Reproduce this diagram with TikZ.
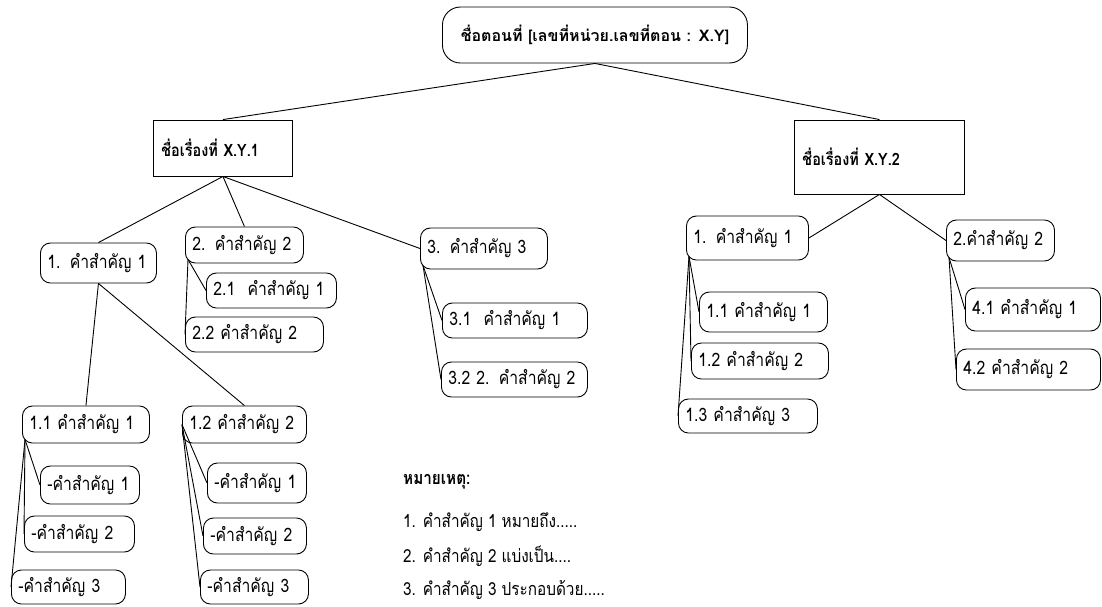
\documentclass[tikz,border=0pt]{standalone}
\usepackage{fontspec}
\setmainfont{Loma}[Script=Thai, FakeStretch=0.85]
\newfontfamily\unitfont{Loma}[Script=Thai]

\tikzset{
          kw/.style={draw, rounded corners=10pt, line width=0.9pt, inner xsep=7pt, inner ysep=0pt, anchor=west, align=left, font=\fontsize{18.5}{20}\selectfont},
          ttl/.style={draw, line width=0.9pt, inner xsep=8pt, inner ysep=0pt, anchor=west, align=left, font=\bfseries\fontsize{17}{19}\selectfont},
          lnk/.style={line width=0.9pt}
        }

\begin{document}
\begin{tikzpicture}[x=1pt, y=-1pt]
  \useasboundingbox (0,0) rectangle (1102,606);

  % unit
  \node[kw, rounded corners=18pt, align=center, text width=291pt, minimum height=56pt, font=\unitfont\bfseries\fontsize{16}{18}\selectfont] (top) at (442,35) {ชื่อตอนที่ [เลขที่หน่วย.เลขที่ตอน : X.Y]};

  % topics
  \node[ttl, text width=123pt, minimum height=56pt] (t1) at (153,148) {ชื่อเรื่องที่ X.Y.1};
  \node[ttl, text width=154pt, minimum height=74pt] (t2) at (794,157) {ชื่อเรื่องที่ X.Y.2};

  % X.Y.1
  \node[kw, text width=102pt, minimum height=40pt] (a1) at (40,263) {1. คำสำคัญ 1};
  \node[kw, text width=113pt, minimum height=37pt] (a11) at (22,424.5) {1.1 คำสำคัญ 1};
  \node[kw, text width=85pt, minimum height=38pt] (a111) at (40,485) {-คำสำคัญ 1};
  \node[kw, text width=96pt, minimum height=36pt] (a112) at (24,534) {-คำสำคัญ 2};
  \node[kw, text width=100pt, minimum height=34pt] (a113) at (11,587) {-คำสำคัญ 3};
  \node[kw, text width=110pt, minimum height=37pt] (a12) at (182,424.5) {1.2 คำสำคัญ 2};
  \node[kw, text width=85pt, minimum height=40pt] (a121) at (207,483) {-คำสำคัญ 1};
  \node[kw, text width=89pt, minimum height=36pt] (a122) at (203,536) {-คำสำคัญ 2};
  \node[kw, text width=94pt, minimum height=34pt] (a123) at (200,587) {-คำสำคัญ 3};
  \node[kw, text width=104pt, minimum height=36pt] (a2) at (185,245) {2. คำสำคัญ 2};
  \node[kw, text width=116pt, minimum height=35pt] (a21) at (206,290.5) {2.1\ \ คำสำคัญ 1};
  \node[kw, text width=124pt, minimum height=35pt] (a22) at (185,334.5) {2.2 คำสำคัญ 2};
  \node[kw, text width=113pt, minimum height=41pt] (a3) at (420,248.5) {3. คำสำคัญ 3};
  \node[kw, text width=131pt, minimum height=35pt] (a31) at (442,320.5) {3.1\ \ คำสำคัญ 1};
  \node[kw, text width=132pt, minimum height=35pt] (a32) at (441,379.5) {3.2 2. คำสำคัญ 2};

  % X.Y.2
  \node[kw, text width=108pt, minimum height=44pt] (b1) at (686,238) {1. คำสำคัญ 1};
  \node[kw, text width=114pt, minimum height=40pt] (b11) at (699,312) {1.1 คำสำคัญ 1};
  \node[kw, text width=123pt, minimum height=36pt] (b12) at (691,361) {1.2 คำสำคัญ 2};
  \node[kw, text width=125pt, minimum height=34pt] (b13) at (678,416) {1.3 คำสำคัญ 3};
  \node[kw, text width=94pt, minimum height=41pt] (b2) at (946,240.5) {2.คำสำคัญ 2};
  \node[kw, text width=121pt, minimum height=43pt] (b21) at (965,309.5) {4.1 คำสำคัญ 1};
  \node[kw, text width=130pt, minimum height=41pt] (b22) at (956,369.5) {4.2 คำสำคัญ 2};

  % corners the branches leave from
  \foreach \p in {a11,a2,a3,b1,b2}
    \coordinate (\p c) at ([shift={(3,-4)}]\p.south west);

  \draw[lnk] (top.south) -- (t1.north);
  \draw[lnk] (top.south) -- (t2.north);
  \foreach \c/\a in {a1/north,a2/north,a3/west}
    \draw[lnk] (t1.south) -- (\c.\a);
  \foreach \c in {a11,a12}
    \draw[lnk] (a1.south) -- (\c.north);
  \foreach \c in {a111,a112,a113}
    \draw[lnk] (a11c) -- (\c.west);
  \foreach \c in {a121,a122,a123}
    \draw[lnk] (a12.west) -- (\c.west);
  \foreach \c in {a21,a22}
    \draw[lnk] (a2c) -- (\c.west);
  \foreach \c in {a31,a32}
    \draw[lnk] (a3c) -- (\c.west);
  \draw[lnk] (t2.south) -- (b1.east);
  \draw[lnk] (t2.south) -- (b2.west);
  \foreach \c in {b11,b12,b13}
    \draw[lnk] (b1c) -- (\c.west);
  \foreach \c in {b21,b22}
    \draw[lnk] (b2c) -- (\c.west);

  % notes
  \node[anchor=west, inner sep=0pt, font=\bfseries\fontsize{18}{22}\selectfont] (nb) at (403,482) {หมายเหตุ:};
  \foreach \i/\t in {1/{1. คำสำคัญ 1 หมายถึง.....},2/{2. คำสำคัญ 2 แบ่งเป็น....},3/{3. คำสำคัญ 3 ประกอบด้วย.....}}
    \node[anchor=west, inner sep=0pt, font=\fontsize{18}{22}\selectfont] (nb\i) at (403,488+34*\i) {\t};

\end{tikzpicture}
\end{document}
